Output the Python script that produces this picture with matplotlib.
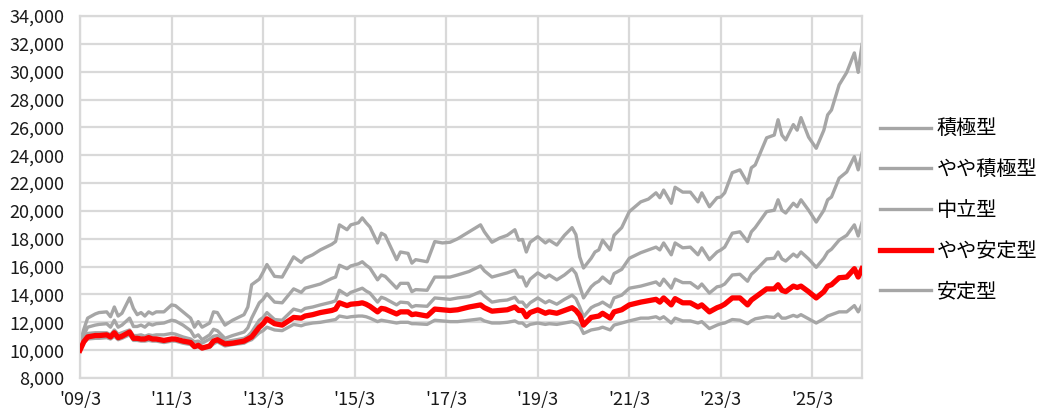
import matplotlib
matplotlib.use("Agg")
import matplotlib.pyplot as plt
import numpy as np

# -----------------------------
# Data (months counted from 2009/3)
# -----------------------------
months = [0, 1, 2, 4, 5, 7, 8, 9, 10, 11, 13, 14, 15, 16, 17, 18, 19, 20, 22, 24,
          25, 27, 29, 30, 31, 32, 34, 35, 36, 38, 40, 43, 44, 45, 47, 48, 49, 51, 53, 56,
          58, 59, 61, 63, 66, 67, 68, 70, 71, 73, 74, 75, 76, 78, 79, 80, 83, 84, 86, 87,
          88, 91, 93, 95, 97, 99, 102, 105, 106, 108, 110, 112, 114, 115, 116, 117, 118, 120, 122, 123,
          125, 127, 129, 130, 131, 132, 134, 135, 136, 137, 139, 140, 142, 144, 147, 149, 151, 152, 153, 155,
          156, 158, 160, 162, 163, 165, 167, 168, 169, 171, 173, 175, 176, 177, 180, 182, 183, 184, 185, 187,
          188, 189, 191, 193, 195, 196, 197, 199, 201, 203, 204, 205]

aggressive = [10500, 11500, 12300, 12600, 12700, 12750, 12400, 13100, 12450, 12650, 13750, 13000, 12550, 12700, 12450, 12750, 12600, 12750, 12750, 13250,
              13200, 12750, 12300, 11650, 12050, 11650, 11950, 12750, 12700, 11800, 12150, 12550, 13100, 14700, 15100, 15600, 16150, 15300, 15250, 16700,
              16300, 16600, 16850, 17200, 17600, 17800, 19000, 18650, 19000, 19150, 19500, 19150, 18850, 17700, 18400, 18250, 16500, 17050, 16950, 16250,
              16500, 16350, 17800, 17700, 17750, 18000, 18500, 19000, 18500, 17750, 18050, 18250, 18650, 17900, 17950, 17050, 17750, 18150, 17700, 17900,
              17550, 18250, 18800, 18300, 16700, 15900, 16600, 17050, 17200, 17900, 17200, 18250, 18800, 19950, 20650, 20850, 21300, 20950, 21500, 20550,
              21700, 21350, 21350, 20650, 21300, 20300, 20950, 21000, 21300, 22750, 22950, 22000, 23100, 23300, 25250, 25450, 26550, 25450, 25100, 26200,
              25800, 26700, 25300, 24500, 25800, 26900, 27250, 29050, 29950, 31350, 29950, 31950]

semi_aggressive = [10500, 11100, 11650, 11800, 11850, 11900, 11650, 12150, 11650, 11800, 12300, 11700, 11700, 11800, 11650, 11900, 11800, 11900, 11950, 12150,
                   12100, 11800, 11400, 10950, 11100, 10750, 11100, 11500, 11400, 10850, 11050, 11300, 11600, 12300, 13400, 13650, 14050, 13450, 13400, 14400,
                   14150, 14450, 14600, 14750, 15150, 15250, 16100, 15850, 16050, 16200, 16350, 16100, 15900, 15050, 15400, 15300, 14450, 14800, 14800, 14200,
                   14350, 14300, 15250, 15250, 15250, 15400, 15650, 16050, 15700, 15250, 15400, 15550, 15750, 15250, 15250, 14600, 15100, 15550, 15200, 15400,
                   15050, 15400, 15850, 15500, 14600, 13750, 14550, 14800, 14950, 15250, 14800, 15500, 15800, 16600, 17000, 17200, 17400, 17200, 17700, 16850,
                   17700, 17350, 17400, 16850, 17350, 16500, 17050, 17200, 17400, 18400, 18500, 17800, 18500, 18800, 19950, 20050, 20800, 20050, 19850, 20550,
                   20300, 20800, 20050, 19200, 20050, 20800, 21000, 22350, 22800, 23900, 22950, 24150]

neutral = [10500, 10800, 11200, 11250, 11250, 11250, 11100, 11450, 11150, 11250, 11450, 11050, 11050, 11100, 11000, 11100, 11050, 11100, 11100, 11200,
           11150, 10950, 10800, 10600, 10650, 10500, 10800, 11000, 11050, 10600, 10700, 10850, 11000, 11300, 12150, 12350, 12700, 12200, 12150, 12950,
           12800, 13000, 13100, 13250, 13450, 13550, 14300, 13950, 14150, 14350, 14450, 14250, 14100, 13450, 13800, 13700, 13250, 13450, 13400, 13100,
           13200, 13150, 13750, 13700, 13650, 13750, 13850, 14200, 13900, 13450, 13550, 13600, 13800, 13450, 13450, 13100, 13400, 13750, 13400, 13550,
           13300, 13650, 13950, 13700, 13100, 12400, 13050, 13200, 13300, 13450, 13100, 13750, 13950, 14450, 14600, 14750, 14900, 14650, 15100, 14450,
           15100, 14850, 14850, 14450, 14750, 14100, 14550, 14600, 14750, 15400, 15450, 14950, 15450, 15700, 16550, 16600, 17050, 16550, 16400, 16900,
           16700, 17050, 16550, 15950, 16600, 17050, 17250, 17900, 18250, 19000, 18200, 19150]

semi_stable = [10000, 10600, 10950, 11050, 11050, 11100, 10950, 11250, 10900, 11000, 11300, 10850, 10850, 10800, 10800, 10900, 10800, 10800, 10700, 10800,
               10800, 10650, 10550, 10250, 10350, 10150, 10300, 10650, 10750, 10450, 10500, 10650, 10800, 10950, 11650, 11900, 12250, 11900, 11800, 12350,
               12300, 12450, 12550, 12700, 12850, 12950, 13400, 13200, 13300, 13350, 13400, 13300, 13150, 12750, 13000, 12950, 12600, 12750, 12750, 12550,
               12600, 12450, 12950, 12900, 12850, 12900, 13100, 13250, 13050, 12800, 12850, 12900, 13100, 12850, 12850, 12400, 12700, 12900, 12650, 12750,
               12650, 12850, 13050, 12850, 12500, 11800, 12350, 12400, 12450, 12650, 12300, 12750, 12900, 13250, 13450, 13550, 13650, 13450, 13750, 13250,
               13700, 13400, 13400, 13100, 13250, 12750, 13050, 13150, 13300, 13750, 13750, 13250, 13600, 13800, 14400, 14400, 14700, 14300, 14200, 14600,
               14500, 14600, 14200, 13750, 14200, 14600, 14700, 15200, 15250, 15850, 15250, 15850]

stable = [10500, 10550, 10800, 10850, 10850, 10900, 10800, 11000, 10750, 10850, 11100, 10700, 10700, 10650, 10650, 10700, 10650, 10650, 10550, 10650,
          10650, 10500, 10400, 10200, 10250, 10100, 10200, 10450, 10600, 10300, 10400, 10500, 10650, 10750, 11250, 11400, 11650, 11450, 11400, 11850,
          11750, 11850, 11950, 12000, 12150, 12200, 12450, 12350, 12400, 12450, 12450, 12400, 12300, 12050, 12150, 12100, 11950, 12000, 12000, 11900,
          11900, 11850, 12150, 12100, 12050, 12050, 12150, 12250, 12100, 11950, 11950, 12000, 12100, 11950, 11950, 11700, 11850, 11950, 11850, 11900,
          11850, 11950, 12050, 11950, 11750, 11200, 11450, 11500, 11550, 11650, 11450, 11800, 11950, 12100, 12300, 12300, 12400, 12250, 12400, 11950,
          12300, 12100, 12100, 11950, 12050, 11550, 11800, 11900, 11950, 12200, 12150, 11900, 12100, 12250, 12400, 12350, 12600, 12300, 12300, 12500,
          12400, 12550, 12250, 11950, 12250, 12450, 12550, 12750, 12750, 13200, 12750, 13250]

labels = ["積極型", "やや積極型", "中立型", "やや安定型", "安定型"]
tick_months = [0, 24, 48, 72, 96, 120, 144, 168, 192]
tick_labels = ["'09/3", "'11/3", "'13/3", "'15/3", "'17/3", "'19/3", "'21/3", "'23/3", "'25/3"]

series = [aggressive, semi_aggressive, neutral, semi_stable, stable]
for s in series:
    assert len(s) == len(months)

# -----------------------------
# Plot
# -----------------------------
plt.rcParams['font.family'] = ['Noto Sans CJK JP', 'DejaVu Sans']

gray = "#a6a6a6"
colors = [gray, gray, gray, "#ff0000", gray]
widths = [2.4, 2.4, 2.4, 3.8, 2.4]

fig = plt.figure(figsize=(10.37, 4.08), dpi=100)
ax = fig.add_axes([80 / 1037, 1 - 378 / 408, 782 / 1037, 362 / 408])

x = np.array(months)
lines = []
for s, lab, c, w in zip(series, labels, colors, widths):
    z = 3 if c != gray else 2
    ln, = ax.plot(x, s, color=c, lw=w, label=lab, zorder=z, solid_joinstyle="round")
    lines.append(ln)

ax.set_xlim(0, 205)
ax.set_ylim(8000, 34000)
ax.set_yticks(np.arange(8000, 34001, 2000))
ax.yaxis.set_major_formatter(matplotlib.ticker.FuncFormatter(lambda v, p: f"{int(v):,}"))
ax.set_xticks(tick_months)
ax.set_xticklabels(tick_labels)
ax.tick_params(length=0, labelsize=13, colors="#1a1a1a")
ax.tick_params(axis="x", pad=9)
ax.tick_params(axis="y", pad=11)

ax.grid(True, color="#d9d9d9", lw=1.6)
ax.set_axisbelow(True)
for sp in ax.spines.values():
    sp.set_color("#d9d9d9")
    sp.set_linewidth(1.6)

fig.legend(handles=lines, labels=labels, loc="upper left",
           bbox_to_anchor=(880 / 1037, 1 - 119 / 408), frameon=False,
           fontsize=14.5, handlelength=2.55, handletextpad=0.25,
           labelspacing=0.97, borderpad=0, borderaxespad=0)

fig.savefig("out.png", dpi=100)
